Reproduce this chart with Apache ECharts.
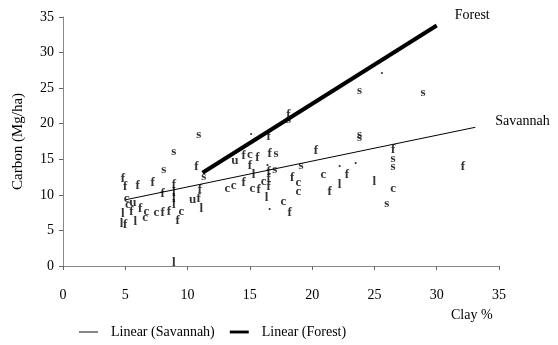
<!DOCTYPE html>
<html>
<head>
<meta charset="utf-8">
<script src="https://cdn.jsdelivr.net/npm/echarts@6/dist/echarts.min.js"></script>
<style>
  html, body { margin: 0; padding: 0; background: #fff; }
  #main { width: 558px; height: 345px; }
</style>
</head>
<body>
<div id="main"></div>
<script>
// puntos (clay %, carbon, letra)
var pointX = [4.8, 5.0, 5.1, 5.6, 5.2, 5.5, 4.8, 4.7, 5.0, 5.8,
  6.0, 6.2, 6.7, 6.6, 7.2, 7.5, 8.0, 8.5, 8.0, 8.1,
  8.9, 8.9, 8.9, 8.9, 8.9, 9.5, 9.2, 8.9, 10.4, 10.9,
  11.1, 11.0, 10.7, 11.3, 10.9, 13.8, 14.5, 15.0, 15.6, 15.0,
  15.3, 13.2, 13.7, 14.5, 15.2, 15.7, 16.1, 16.5, 16.5, 17.0,
  16.5, 16.4, 16.6, 17.1, 16.5, 15.1, 18.1, 18.1, 16.35, 16.6,
  17.7, 18.2, 18.4, 18.9, 18.9, 19.1, 20.3, 20.9, 21.4, 22.2,
  22.2, 22.8, 23.5, 23.8, 23.8, 23.8, 25.6, 25.0, 26.5, 26.5,
  26.5, 26.5, 26.0, 28.9, 32.1];
var pointY = [12.3, 11.2, 9.5, 8.9, 8.6, 7.6, 7.3, 6.0, 5.8, 6.2,
  11.25, 8.1, 7.6, 6.8, 11.7, 7.5, 7.5, 7.6, 10.2, 13.6,
  16.1, 11.5, 10.3, 9.4, 8.6, 7.7, 6.4, 0.5, 9.3, 9.5,
  8.0, 10.8, 14.0, 12.5, 18.5, 14.8, 15.5, 15.6, 15.2, 14.1,
  12.9, 10.9, 11.3, 11.7, 10.9, 10.8, 11.9, 12.3, 11.1, 13.5,
  13.3, 14.1, 15.85, 15.85, 18.2, 18.5, 21.3, 20.6, 9.6, 7.9,
  9.0, 7.5, 12.4, 11.7, 10.45, 14.1, 16.2, 12.9, 10.4, 13.9,
  11.5, 12.8, 14.4, 24.6, 18.5, 18.0, 27.0, 11.8, 16.3, 15.1,
  13.9, 10.9, 8.7, 24.4, 13.9];
var pointCode = ['f', 'f', 'c', 'u', 'c', 'f', 'l', 'l', 'f', 'l',
  'f', 'f', 'c', 'c', 'f', 'c', 'f', 'f', 'f', 's',
  's', 'f', 'l', 'l', 'l', 'c', 'f', 'l', 'u', 'f',
  'l', 'f', 'f', 's', 's', 'u', 'f', 'c', 'f', 'f',
  'l', 'c', 'c', 'f', 'c', 'f', 'c', 'f', 'f', 's',
  'f', '·', 'f', 's', 'f', '·', 'f', 's', 'l', '·',
  'c', 'f', 'f', 'c', 'c', 's', 'f', 'c', 'f', '·',
  'l', 'f', '·', 's', 's', 's', '·', 'l', 'f', 's',
  's', 'c', 's', 's', 'f'];

// lineas de tendencia
var savannahX = [5, 33.1];
var savannahY = [9.3, 19.5];
var forestX = [11.2, 30];
var forestY = [13.1, 33.8];

var xTicks = [0, 35, 5];
var yTicks = [0, 35, 5];

var serif = 'Liberation Serif, Times New Roman, serif';

var puntos = pointX.map(function (x, i) {
  return [x, pointY[i], pointCode[i]];
});
function pares(xs, ys) {
  return xs.map(function (x, i) { return [x, ys[i]]; });
}

var chartDom = document.getElementById('main');
var myChart = echarts.init(chartDom);
var option;

option = {
  animation: false,
  textStyle: { fontFamily: serif, color: '#000' },
  grid: { left: 63, right: 59, top: 17, bottom: 79 },
  legend: {
    data: [
      { name: 'Linear (Savannah)', icon: 'path://M0,0h20v1h-20z' },
      { name: 'Linear (Forest)', icon: 'path://M0,0h20v3h-20z' }
    ],
    left: 74,
    top: 320,
    itemWidth: 19,
    itemHeight: 10,
    itemGap: 15,
    itemStyle: { color: '#000', borderWidth: 0 },
    textStyle: { fontFamily: serif, fontSize: 14, color: '#000', padding: [0, 0, 0, 8] }
  },
  xAxis: {
    type: 'value',
    min: xTicks[0],
    max: xTicks[1],
    interval: xTicks[2],
    name: 'Clay %',
    nameLocation: 'end',
    nameGap: -48,
    nameTextStyle: {
      fontFamily: serif, fontSize: 14, color: '#000',
      align: 'left', verticalAlign: 'top', padding: [42, 0, 0, 0]
    },
    axisLine: { lineStyle: { color: '#888', width: 1 } },
    axisTick: { length: 4, lineStyle: { color: '#666' } },
    axisLabel: { margin: 22, fontFamily: serif, fontSize: 14, color: '#000' },
    splitLine: { show: false }
  },
  yAxis: {
    type: 'value',
    min: yTicks[0],
    max: yTicks[1],
    interval: yTicks[2],
    name: 'Carbon (Mg/ha)',
    nameLocation: 'middle',
    nameGap: 37,
    nameTextStyle: { fontFamily: serif, fontSize: 15, color: '#000' },
    axisLine: { show: true, lineStyle: { color: '#888', width: 1 } },
    axisTick: { show: true, length: 4, lineStyle: { color: '#666' } },
    axisLabel: { margin: 9, fontFamily: serif, fontSize: 14, color: '#000' },
    splitLine: { show: false }
  },
  series: [
    {
      name: 'puntos',
      type: 'scatter',
      symbol: 'circle',
      symbolSize: 1,
      itemStyle: { color: 'rgba(0,0,0,0)' },
      data: puntos,
      label: {
        show: true,
        position: 'inside',
        formatter: function (p) { return p.value[2]; },
        fontFamily: serif,
        fontSize: 13,
        fontWeight: 'bold',
        color: '#000'
      },
      z: 3
    },
    {
      name: 'Linear (Savannah)',
      type: 'line',
      data: pares(savannahX, savannahY),
      symbol: 'none',
      lineStyle: { color: '#000', width: 1 },
      itemStyle: { color: '#000' },
      endLabel: {
        show: true,
        formatter: 'Savannah',
        distance: 20,
        offset: [0, -6],
        fontFamily: serif,
        fontSize: 14,
        color: '#000'
      }
    },
    {
      name: 'Linear (Forest)',
      type: 'line',
      data: pares(forestX, forestY),
      symbol: 'none',
      lineStyle: { color: '#000', width: 4 },
      itemStyle: { color: '#000' },
      endLabel: {
        show: true,
        formatter: 'Forest',
        distance: 18,
        offset: [0, -10],
        fontFamily: serif,
        fontSize: 14,
        color: '#000'
      }
    }
  ]
};

option && myChart.setOption(option);
</script>
</body>
</html>
